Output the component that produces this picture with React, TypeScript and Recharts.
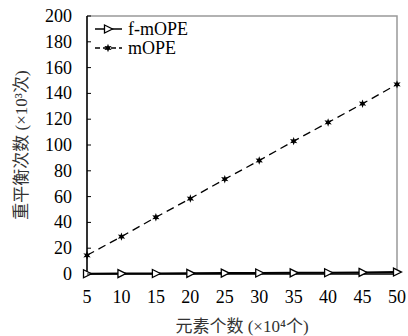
import { LineChart, Line, XAxis, YAxis } from 'recharts'

const sizes = [5, 10, 15, 20, 25, 30, 35, 40, 45, 50]
const fmope = [0.2, 0.3, 0.4, 0.5, 0.7, 0.8, 0.9, 1.0, 1.2, 1.5]
const mope = [14.5, 29, 44, 58.5, 73.5, 88, 103, 117.5, 132, 147]
const yTicks = [0, 20, 40, 60, 80, 100, 120, 140, 160, 180, 200]

const data = sizes.map((n, i) => ({ n, fmope: fmope[i], mope: mope[i] }))

const serif = '"Liberation Serif", "DejaVu Serif", serif'
const cjk = '"Liberation Serif", "Noto Sans CJK SC", serif'

// plot box (chart margins + axis sizes)
const box = { left: 87, top: 16, right: 397, bottom: 274 }

const TriDot = (props: any) => {
  const { cx, cy } = props
  if (cx == null || cy == null) return null
  return (
    <polygon
      points={`${cx - 3.5},${cy - 4} ${cx + 4.5},${cy} ${cx - 3.5},${cy + 4}`}
      fill='#fff'
      stroke='#000'
      strokeWidth={1.3}
    />
  )
}

const starPoints = (cx: number, cy: number, r1: number, r2: number) => {
  const pts: string[] = []
  for (let k = 0; k < 12; k++) {
    const r = k % 2 === 0 ? r1 : r2
    const a = (Math.PI / 6) * k - Math.PI / 2
    pts.push(`${cx + r * Math.cos(a)},${cy + r * Math.sin(a)}`)
  }
  return pts.join(' ')
}

const StarDot = (props: any) => {
  const { cx, cy } = props
  if (cx == null || cy == null) return null
  return <polygon points={starPoints(cx, cy, 4.2, 1.9)} fill='#000' />
}

// y tick: label plus a short inward tick mark on the axis
const YTick = (props: any) => {
  const { x, y, payload } = props
  return (
    <g>
      <path d={`M${x + 15},${y}h4`} stroke='#000' strokeWidth={1} fill='none' />
      <text x={x} y={y} textAnchor='end' dominantBaseline='central' fontFamily={serif} fontSize={18} fill='#000'>
        {payload.value}
      </text>
    </g>
  )
}

// plot frame, drawn under the chart
const Frame = () => (
  <svg width={408} height={336} style={{ position: 'absolute', left: 0, top: 0 }}>
    <path
      d={`M${box.left},${box.top}H${box.right}V${box.bottom}`}
      stroke='#999'
      strokeWidth={1.5}
      fill='none'
    />
    <path
      d={`M${box.left},${box.top}V${box.bottom}H${box.right}`}
      stroke='#000'
      strokeWidth={1.2}
      fill='none'
    />
  </svg>
)

// legend and axis titles drawn over the chart
const Overlay = () => (
  <svg width={408} height={336} style={{ position: 'absolute', left: 0, top: 0, pointerEvents: 'none' }}>
    <g transform='translate(92,19)'>
      <line x1={3} y1={10} x2={30} y2={10} stroke='#000' strokeWidth={1.5} />
      <TriDot cx={16} cy={10} />
      <text x={36} y={10} dominantBaseline='central' fontFamily={serif} fontSize={18} fill='#000'>f-mOPE</text>
      <line x1={3} y1={29} x2={30} y2={29} stroke='#000' strokeWidth={1.3} strokeDasharray='5 3' />
      <StarDot cx={16} cy={29} />
      <text x={36} y={29} dominantBaseline='central' fontFamily={serif} fontSize={18} fill='#000'>mOPE</text>
    </g>
    <text x={242} y={326} textAnchor='middle' dominantBaseline='central' fontFamily={cjk} fontSize={17} fill='#333'>
      元素个数 (×10⁴个)
    </text>
    <text
      transform='translate(21,145) rotate(-90)'
      textAnchor='middle'
      dominantBaseline='central'
      fontFamily={cjk}
      fontSize={17}
      fill='#333'
    >
      重平衡次数 (×10³次)
    </text>
  </svg>
)

export default function App() {
  return (
    <div style={{ position: 'absolute', left: 0, top: 0, width: 408, height: 336, background: '#fff' }}>
      <Frame />
      <LineChart width={408} height={336} data={data} margin={{ top: 16, right: 11, left: 0, bottom: 0 }}>
        <XAxis
          dataKey='n'
          type='number'
          domain={[5, 50]}
          ticks={sizes}
          interval={0}
          height={62}
          stroke='#000'
          tickLine={false}
          tickSize={0}
          tickMargin={16}
          tick={{ fontFamily: serif, fontSize: 18, fill: '#000' }}
        />
        <YAxis
          type='number'
          domain={[0, 200]}
          ticks={yTicks}
          interval={0}
          width={87}
          stroke='#000'
          tickLine={false}
          tickSize={0}
          tickMargin={15}
          tick={<YTick />}
        />
        <Line
          dataKey='mope'
          name='mOPE'
          stroke='#000'
          strokeWidth={1.3}
          strokeDasharray='8 5'
          dot={<StarDot />}
          activeDot={false}
          isAnimationActive={false}
        />
        <Line
          dataKey='fmope'
          name='f-mOPE'
          stroke='#000'
          strokeWidth={2}
          dot={<TriDot />}
          activeDot={false}
          isAnimationActive={false}
        />
      </LineChart>
      <Overlay />
    </div>
  )
}
